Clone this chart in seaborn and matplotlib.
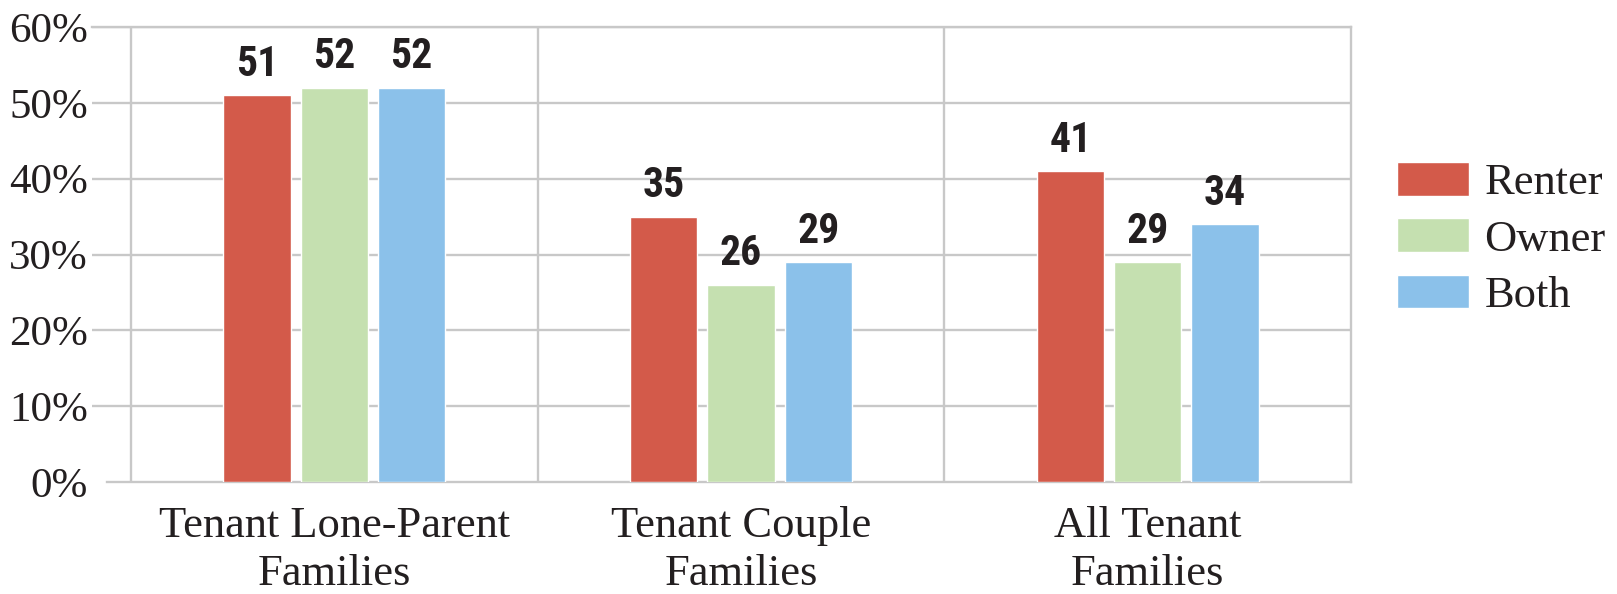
import matplotlib
matplotlib.use("Agg")
import matplotlib.pyplot as plt
import seaborn as sns
import pandas as pd
from matplotlib.ticker import FixedLocator, FuncFormatter

# chart data
groups = ["Tenant Lone-Parent\nFamilies", "Tenant Couple\nFamilies", "All Tenant\nFamilies"]
tenure = ["Renter", "Owner", "Both"]
renter = [51, 35, 41]
owner = [52, 26, 29]
both = [52, 29, 34]
y_ticks = [10, 20, 30, 40, 50, 60]

colors = {"Renter": "#D35A4A", "Owner": "#C5E0B0", "Both": "#8BC1EA"}
grid_col = "#C8C8C8"
text_col = "#231F20"

sns.set_style("white")
plt.rcParams["font.family"] = ["Liberation Serif", "DejaVu Serif"]
plt.rcParams["text.color"] = text_col

rows = []
for series_name, vals in zip(tenure, [renter, owner, both]):
    for g, v in zip(groups, vals):
        rows.append({"group": g, "tenure": series_name, "pct": v})
df = pd.DataFrame(rows)

# axes starts where the gridlines start (they run past the left frame line)
unit = (1351 - 131) / 3
fig = plt.figure(figsize=(16.17, 5.94), dpi=100)
ax = fig.add_axes([92 / 1617, 1 - 482 / 594, (1351 - 92) / 1617, (482 - 27) / 594])

sns.barplot(data=df, x="group", y="pct", hue="tenure", hue_order=tenure,
            order=groups, palette=colors, width=0.57, gap=0.13,
            saturation=1, ax=ax, zorder=3)

ax.set_xlim(-0.5 - (131 - 92) / unit, 2.5)
ax.set_ylim(0, 60)
pct_fmt = FuncFormatter(lambda v, _: f"{v:.0f}%")
ax.yaxis.set_major_locator(FixedLocator(y_ticks))
ax.yaxis.set_minor_locator(FixedLocator([0]))
ax.yaxis.set_major_formatter(pct_fmt)
ax.yaxis.set_minor_formatter(pct_fmt)
ax.set_xlabel("")
ax.set_ylabel("")

# grid: horizontal lines, frame line and separators between groups
ax.set_xticks([-0.5, 0.5, 1.5], minor=True)
ax.grid(axis="y", which="major", color=grid_col, linewidth=1.7, zorder=0)
ax.grid(axis="x", which="minor", color=grid_col, linewidth=1.7, zorder=0)
ax.grid(axis="x", which="major", visible=False)
ax.set_axisbelow(True)
for sp in ax.spines.values():
    sp.set_color(grid_col)
    sp.set_linewidth(1.7)
ax.spines["left"].set_visible(False)
ax.spines["bottom"].set_bounds(-0.5 - (131 - 107) / unit, 2.5)

ax.tick_params(axis="y", which="both", left=False, length=0, pad=3,
               labelsize=31, labelcolor=text_col)
ax.tick_params(axis="x", which="major", length=0, pad=17, labelsize=32,
               labelcolor=text_col)
ax.tick_params(axis="x", which="minor", length=0, labelbottom=False)
for lbl in ax.get_xticklabels():
    lbl.set_linespacing(1.26)

# value labels on top of the bars
for cont in ax.containers:
    ax.bar_label(cont, fmt="%d", padding=7.5, fontsize=30, fontweight="bold",
                 fontstretch="condensed",
                 family=["Roboto Condensed", "Liberation Sans Narrow", "Roboto"],
                 color=text_col)

handles, labels = ax.get_legend_handles_labels()
if ax.get_legend() is not None:
    ax.get_legend().remove()
fig.legend(handles, labels, loc="center left", bbox_to_anchor=(1397 / 1617, 1 - 239 / 594),
           frameon=False, fontsize=32, handlelength=1.62, handleheight=0.79,
           handletextpad=0.35, labelspacing=0.34, borderpad=0, borderaxespad=0)

fig.savefig("out.png", dpi=100)
